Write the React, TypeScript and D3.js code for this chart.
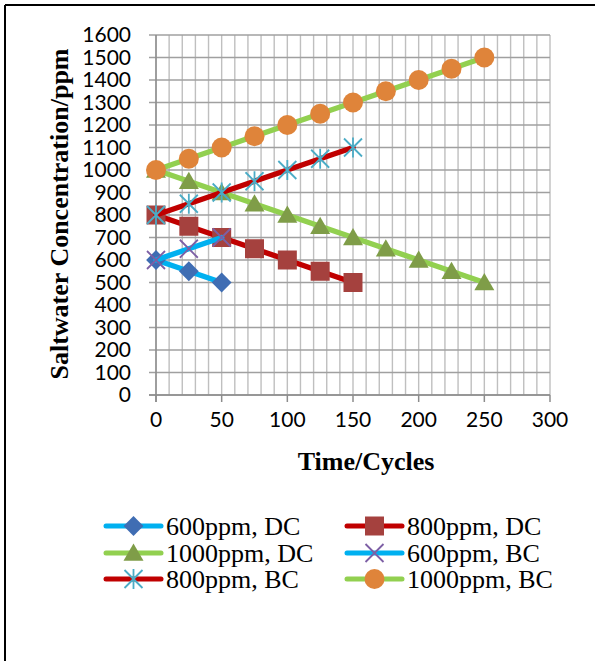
import * as d3 from 'd3'

// cycles (x) and concentrations (y)
const cyclesShort = [0, 25, 50]
const cyclesMid = [0, 25, 50, 75, 100, 125, 150]
const cyclesLong = [0, 25, 50, 75, 100, 125, 150, 175, 200, 225, 250]

const dc600 = [600, 550, 500]
const dc800 = [800, 750, 700, 650, 600, 550, 500]
const dc1000 = [1000, 950, 900, 850, 800, 750, 700, 650, 600, 550, 500]
const bc600 = [600, 650, 700]
const bc800 = [800, 850, 900, 950, 1000, 1050, 1100]
const bc1000 = [1000, 1050, 1100, 1150, 1200, 1250, 1300, 1350, 1400, 1450, 1500]

const seriesNames = ['600ppm, DC', '800ppm, DC', '1000ppm, DC', '600ppm, BC', '800ppm, BC', '1000ppm, BC']

const xTicks = [0, 50, 100, 150, 200, 250, 300]
const yTicks = d3.range(0, 1601, 100)
const xMinor = d3.range(0, 301, 10)

type Marker = 'diamond' | 'square' | 'triangle' | 'x' | 'star' | 'circle'

const series = [
  { name: seriesNames[0], xs: cyclesShort, ys: dc600, line: '#00B0F0', fill: '#3F6DB3', marker: 'diamond' as Marker },
  { name: seriesNames[1], xs: cyclesMid, ys: dc800, line: '#C00000', fill: '#A5413E', marker: 'square' as Marker },
  { name: seriesNames[2], xs: cyclesLong, ys: dc1000, line: '#92D050', fill: '#7F9D48', marker: 'triangle' as Marker },
  { name: seriesNames[3], xs: cyclesShort, ys: bc600, line: '#00B0F0', fill: '#7D5FA5', marker: 'x' as Marker },
  { name: seriesNames[4], xs: cyclesMid, ys: bc800, line: '#C00000', fill: '#4BACC6', marker: 'star' as Marker },
  { name: seriesNames[5], xs: cyclesLong, ys: bc1000, line: '#92D050', fill: '#DF843A', marker: 'circle' as Marker },
]

function MarkerShape({ type, cx, cy, color }: { type: Marker; cx: number; cy: number; color: string }) {
  const r = 10
  if (type === 'circle') {
    return <path d={d3.symbol(d3.symbolCircle, Math.PI * r * r)()!} transform={`translate(${cx},${cy})`} fill={color} />
  }
  if (type === 'square') {
    return <path d={d3.symbol(d3.symbolSquare, 19 * 19)()!} transform={`translate(${cx},${cy})`} fill={color} />
  }
  if (type === 'diamond') {
    return <path d={d3.symbol(d3.symbolSquare, 14 * 14)()!} transform={`translate(${cx},${cy}) rotate(45)`} fill={color} />
  }
  if (type === 'triangle') {
    const s = 20
    const h = s * Math.sqrt(3) / 2
    return <path d={`M0,${-h * 0.55}L${s / 2},${h * 0.45}L${-s / 2},${h * 0.45}Z`} transform={`translate(${cx},${cy})`} fill={color} />
  }
  const k = 9
  const xPath = `M${-k},${-k}L${k},${k}M${-k},${k}L${k},${-k}`
  const d = type === 'star' ? `${xPath}M0,${-k - 1}L0,${k + 1}` : xPath
  return <path d={d} transform={`translate(${cx},${cy})`} fill="none" stroke={color} strokeWidth={1.8} />
}

export default function App() {
  const W = 595, H = 661
  const x = d3.scaleLinear().domain([0, 300]).range([156, 550])
  const y = d3.scaleLinear().domain([0, 1600]).range([395, 35])

  const line = d3.line<[number, number]>().x(d => x(d[0])).y(d => y(d[1]))

  const serif = '"Liberation Serif", "Times New Roman", serif'
  const sans = 'Lato, "Open Sans", sans-serif'

  const legendCols = [106, 347]
  const legendRows = [526, 553, 579]

  return (
    <svg width={W} height={H} style={{ position: 'absolute', left: 0, top: 0, background: '#fff' }}>
      {/* outer frame (top and left edges only visible) */}
      <line x1={5} x2={W} y1={5} y2={5} stroke="#000" strokeWidth={2} />
      <line x1={5} x2={5} y1={5} y2={H} stroke="#000" strokeWidth={2} />

      {/* grid */}
      <g>
        {xMinor.map(t => (
          <line key={'v' + t} x1={x(t)} x2={x(t)} y1={y(1600)} y2={y(0)} stroke="#BFBFBF" strokeWidth={1.4} />
        ))}
        {yTicks.map(t => (
          <line key={'h' + t} x1={x(0) - 7} x2={x(300)} y1={y(t)} y2={y(t)} stroke="#A0A0A0" strokeWidth={1.5} />
        ))}
      </g>

      {/* axes */}
      <line x1={x(0)} x2={x(0)} y1={y(1600)} y2={y(0) + 7} stroke="#8C8C8C" strokeWidth={1.5} />
      <line x1={x(0) - 7} x2={x(300)} y1={y(0)} y2={y(0)} stroke="#8C8C8C" strokeWidth={1.5} />
      {xTicks.map(t => (
        <line key={'xt' + t} x1={x(t)} x2={x(t)} y1={y(0)} y2={y(0) + 7} stroke="#8C8C8C" strokeWidth={1.5} />
      ))}

      {/* tick labels */}
      {yTicks.map(t => (
        <text key={'yl' + t} x={131} y={y(t) + 7} textAnchor="end" fontFamily={sans} fontSize={21} fill="#000">{t}</text>
      ))}
      {xTicks.map(t => (
        <text key={'xl' + t} x={x(t)} y={427} textAnchor="middle" fontFamily={sans} fontSize={21} fill="#000">{t}</text>
      ))}

      {/* axis titles */}
      <text transform="translate(68,214) rotate(-90)" textAnchor="middle" fontFamily={serif} fontWeight="bold" fontSize={26} fill="#000">
        Saltwater Concentration/ppm
      </text>
      <text x={366} y={470} textAnchor="middle" fontFamily={serif} fontWeight="bold" fontSize={26} fill="#000">
        Time/Cycles
      </text>

      {/* series */}
      {series.map(s => {
        const pts = s.xs.map((c, i) => [c, s.ys[i]] as [number, number])
        return (
          <g key={s.name}>
            <path d={line(pts)!} fill="none" stroke={s.line} strokeWidth={5.5} strokeLinejoin="round" strokeLinecap="round" />
            {pts.map((p, i) => (
              <MarkerShape key={i} type={s.marker} cx={x(p[0])} cy={y(p[1])} color={s.fill} />
            ))}
          </g>
        )
      })}

      {/* legend */}
      {series.map((s, i) => {
        const lx = legendCols[i % 2]
        const ly = legendRows[Math.floor(i / 2)]
        return (
          <g key={'lg' + s.name}>
            <line x1={lx} x2={lx + 55} y1={ly} y2={ly} stroke={s.line} strokeWidth={5} strokeLinecap="round" />
            <MarkerShape type={s.marker} cx={lx + 27.5} cy={ly} color={s.fill} />
            <text x={lx + 60} y={ly + 9} fontFamily={serif} fontSize={26} fill="#000">{s.name}</text>
          </g>
        )
      })}
    </svg>
  )
}
